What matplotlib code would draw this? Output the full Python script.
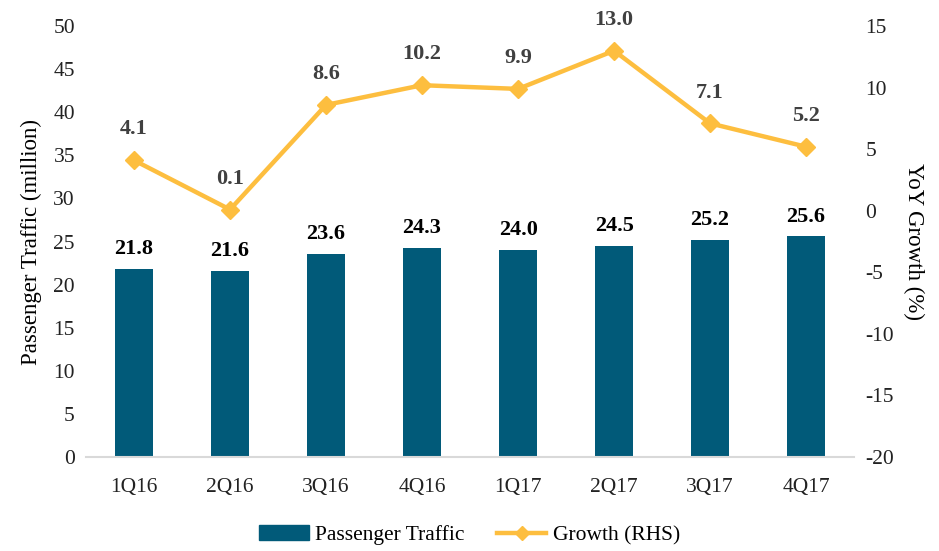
import numpy as np
import matplotlib.pyplot as plt
from matplotlib.lines import Line2D
from matplotlib.patches import Patch

quarters = ['1Q16', '2Q16', '3Q16', '4Q16', '1Q17', '2Q17', '3Q17', '4Q17']
traffic = [21.8, 21.6, 23.6, 24.3, 24.0, 24.5, 25.2, 25.6]
growth = [4.1, 0.1, 8.6, 10.2, 9.9, 13.0, 7.1, 5.2]

bar_color = '#015a79'
line_color = '#fdbe3f'

plt.rcParams['font.family'] = ['Liberation Serif', 'DejaVu Serif']
plt.rcParams['font.size'] = 15
plt.rcParams['axes.unicode_minus'] = False

fig = plt.figure(figsize=(9.39, 5.51), dpi=100)
ax = fig.add_axes([0.0916, 0.1706, 0.818, 0.782])
ax2 = ax.twinx()

x = np.arange(len(quarters))
ax.bar(x, traffic, width=0.4, color=bar_color, zorder=2)
for xi, v in zip(x, traffic):
    ax.annotate(f'{v:.1f}', (xi, v), xytext=(0, 7), textcoords='offset points',
                ha='center', va='bottom', fontweight='bold', fontsize=16, color='black')

ax2.plot(x, growth, color=line_color, linewidth=3.2, marker='D', markersize=9.5,
         zorder=3)
for xi, v in zip(x, growth):
    ax2.annotate(f'{v:.1f}', (xi, v), xytext=(0, 15), textcoords='offset points',
                 ha='center', va='bottom', fontweight='bold', fontsize=16, color='#404040')

ax.set_xlim(-0.5, len(quarters) - 0.5)
ax.set_ylim(0, 50)
ax.set_yticks(range(0, 51, 5))
ax2.set_ylim(-20, 15)
ax2.set_yticks(range(-20, 16, 5))
ax.set_xticks(x)
ax.set_xticklabels(quarters)

for a in (ax, ax2):
    for s in ['top', 'right', 'left', 'bottom']:
        a.spines[s].set_visible(False)
    a.tick_params(length=0, labelsize=15.5, colors='#222222')
ax.spines['bottom'].set_visible(True)
ax.spines['bottom'].set_color('#d9d9d9')
ax.spines['bottom'].set_linewidth(1.5)
ax.tick_params(axis='x', pad=15)
ax.tick_params(axis='y', pad=8)
ax2.tick_params(axis='y', pad=8)

ax.set_ylabel('Passenger Traffic (million)', fontsize=16.5, labelpad=8)
ax2.set_ylabel('YoY Growth (%)', fontsize=16.5, rotation=270, labelpad=22)

handles = [Patch(color=bar_color, label='Passenger Traffic'),
           Line2D([0], [0], color=line_color, linewidth=3.2, marker='D', markersize=7,
                  label='Growth (RHS)')]
fig.legend(handles=handles, loc='lower center', bbox_to_anchor=(0.5, -0.025), ncol=2,
           frameon=False, fontsize=15.5, handlelength=2.3, handletextpad=0.3,
           columnspacing=1.5)

fig.savefig('out.png', dpi=100)
